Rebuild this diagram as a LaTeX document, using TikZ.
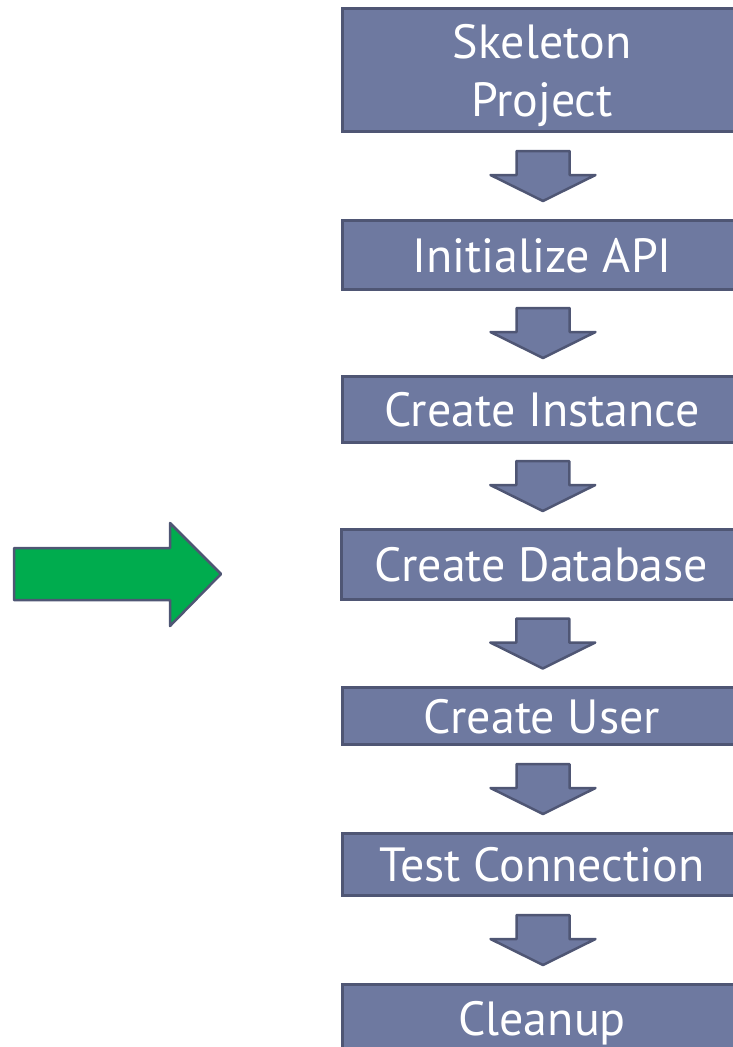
\documentclass[tikz,border=0pt]{standalone}
\usepackage{fontspec}
\setmainfont{PT Sans}
\usetikzlibrary{calc}

\definecolor{boxblue}{HTML}{6E79A0}
\definecolor{boxline}{HTML}{4F5674}
\definecolor{gogreen}{HTML}{00AC4E}

\begin{document}
\begin{tikzpicture}[x=1pt,y=-1pt,
	every node/.style={font=\fontsize{48}{58}\selectfont, text=white},
	stepbox/.style={draw=boxline, fill=boxblue, line width=3pt, minimum width=400pt,
		align=center, inner sep=0pt, text height=34pt, text depth=0pt},
	flowarrow/.pic={\draw[draw=boxline, fill=boxblue, line width=2.5pt, line join=round]
		(-26.5,-25) -- (26.5,-25) -- (26.5,-1) -- (52.5,-1) -- (0,25) -- (-52.5,-1) -- (-26.5,-1) -- cycle;}
	]

\useasboundingbox (0,0) rectangle (733,1047);
\clip (0,0) rectangle (733,1047);

% steps
\node[stepbox, minimum height=123, text height=92pt] (skeleton) at (542,70) {Skeleton\\Project};
\node[stepbox, minimum height=69] (api) at (542,255) {Initialize API};
\node[stepbox, minimum height=66] (instance) at (542,409.5) {Create Instance};
\node[stepbox, minimum height=70] (database) at (541.5,564.5) {Create Database};
\node[stepbox, minimum height=57] (user) at (542,716) {Create User};
\node[stepbox, minimum height=62] (test) at (542,864.5) {Test Connection};
\node[stepbox, minimum height=67] (cleanup) at (542,1018) {Cleanup};

\foreach \a/\b in {skeleton/api, api/instance, instance/database, database/user, user/test, test/cleanup}
	\pic at ($(\a.south)!0.5!(\b.north)+(1,0)$) {flowarrow};

% you are here
\draw[draw=boxline, fill=gogreen, line width=2.5pt, line join=round]
	(14,548) -- (170,548) -- (170,523) -- (221,574) -- (170,626) -- (170,600) -- (14,600) -- cycle;

\end{tikzpicture}
\end{document}
